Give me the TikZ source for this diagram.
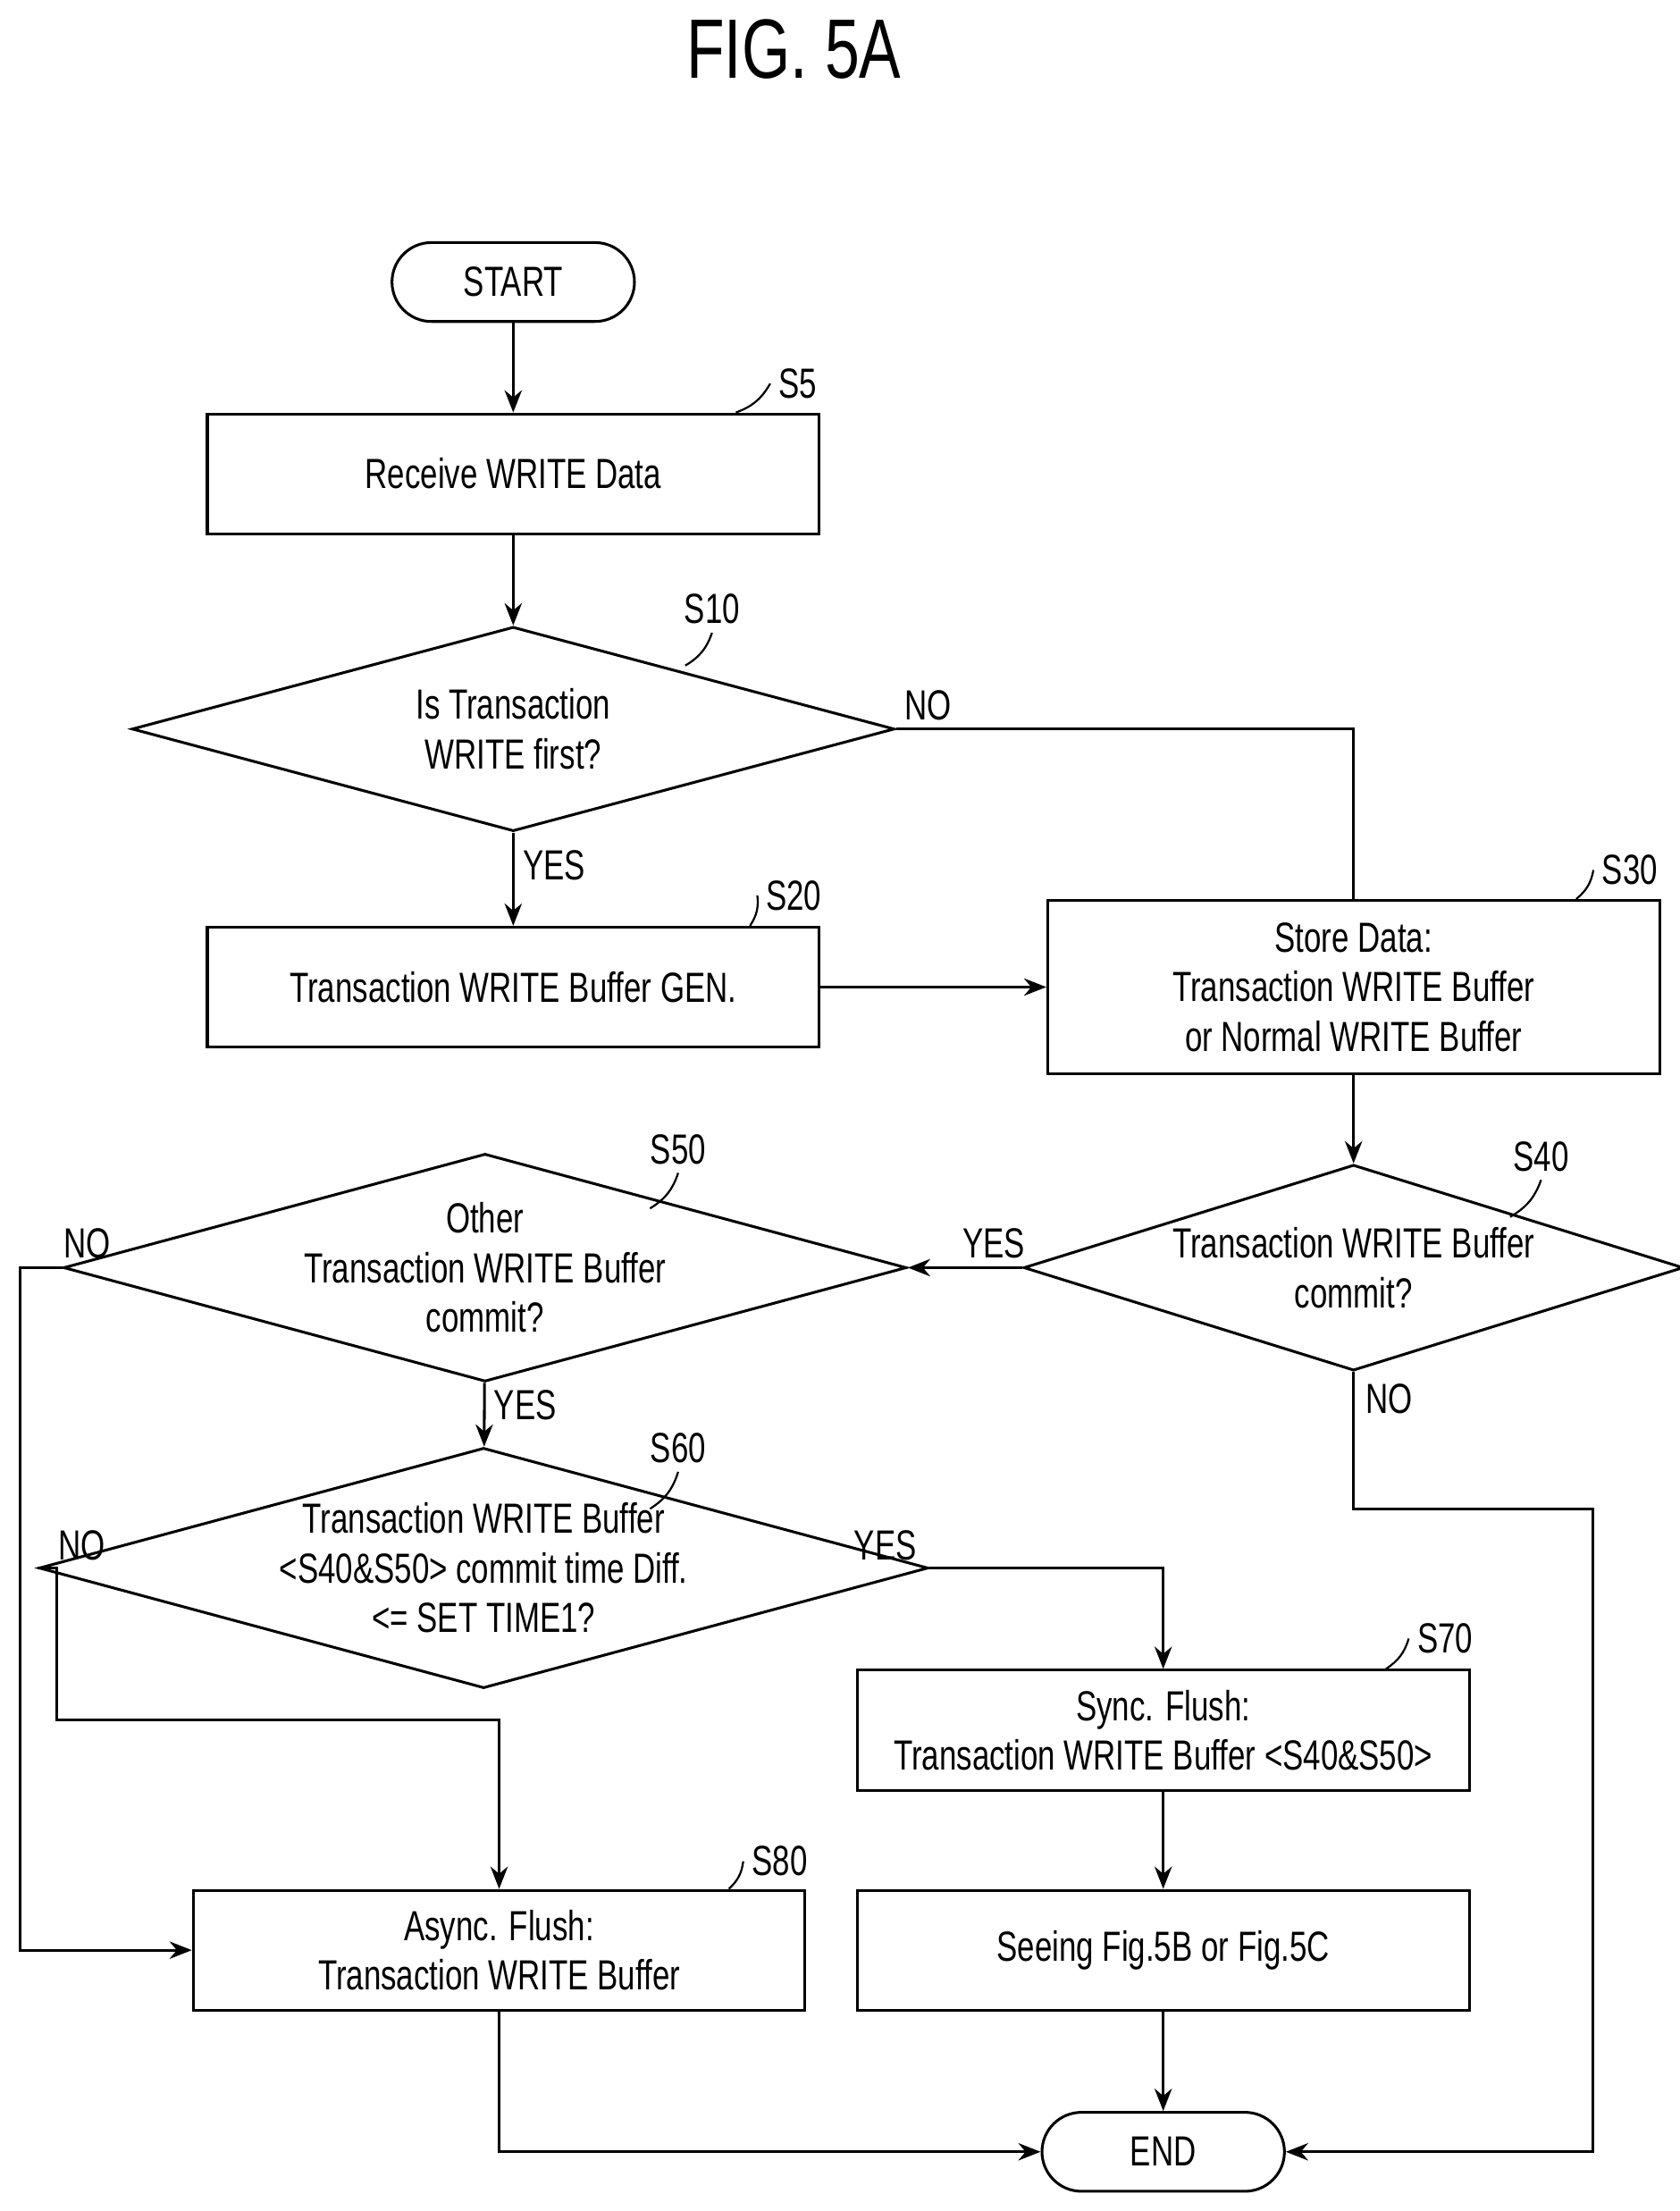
\documentclass[tikz,border=0pt]{standalone}
\usepackage{fontspec}
\setmainfont{Liberation Sans}[FakeStretch=0.74]
\usetikzlibrary{arrows.meta,shapes.geometric,positioning}
\tikzset{
    >={Stealth[length=9pt,width=7pt]},
    procbox/.style={draw, line width=1.1pt, minimum width=8.68cm, minimum height=1.7cm, align=center, inner sep=0pt},
    terminal/.style={draw, line width=1.1pt, rounded corners=0.56cm, minimum width=3.44cm, minimum height=1.12cm},
    decision/.style={draw, diamond, line width=1.1pt, align=center, inner sep=0pt, aspect=3.7},
    flow/.style={->, line width=1.1pt},
    tag/.style={line width=0.8pt},
}
\begin{document}
\begin{tikzpicture}[x=0.02cm, y=-0.02cm, font=\fontsize{17}{20}\selectfont]
\useasboundingbox (0,0) rectangle (1191,1568);
\node (title) at (563,35) {\fontsize{34}{40}\selectfont FIG. 5A};

% nodes
\node[terminal] (start) at (364,200) {START};
\node[procbox] (s5) at (364,336) {Receive WRITE Data};
\node[decision, minimum width=10.82cm, minimum height=2.9cm] (s10) at (364,517) {Is Transaction\\WRITE first?};
\node[procbox] (s20) at (364,700) {Transaction WRITE Buffer GEN.};
\node[procbox, minimum height=2.46cm] (s30) at (960,700) {Store Data:\\Transaction WRITE Buffer\\or Normal WRITE Buffer};
\node[decision, minimum width=8.68cm, minimum height=2.92cm] (s40) at (960,899) {Transaction WRITE Buffer\\commit?};
\node[decision, minimum width=10.66cm, minimum height=2.92cm] (s50) at (344,899) {Other\\Transaction WRITE Buffer\\commit?};
\node[decision, minimum width=10.6cm, minimum height=2.98cm] (s60) at (343,1112) {Transaction WRITE Buffer\\{<}S40\&S50{>} commit time Diff.\\{<}= SET TIME1?};
\node[procbox] (s70) at (825,1227) {Sync. Flush:\\Transaction WRITE Buffer {<}S40\&S50{>}};
\node[procbox] (s80) at (354,1383) {Async. Flush:\\Transaction WRITE Buffer};
\node[procbox] (see) at (825,1383) {Seeing Fig.5B or Fig.5C};
\node[terminal] (end) at (825,1526) {END};

% step labels
\node (l5) at (566,272) {S5};
\node (l10) at (505,432) {S10};
\node (l20) at (563,635) {S20};
\node (l30) at (1156,617) {S30};
\node (l40) at (1093,820) {S40};
\node (l50) at (481,815) {S50};
\node (l60) at (481,1027) {S60};
\node (l70) at (1025,1162) {S70};
\node (l80) at (553,1320) {S80};
\draw[tag] (s5.north east) ++(-60,0) to[bend right=20] (l5.west);
\draw[tag] (486,472) to[bend right=20] (l10.south);
\draw[tag] (s20.north east) ++(-50,0) to[bend right=20] (l20.west);
\draw[tag] (s30.north east) ++(-60,0) to[bend right=20] (l30.west);
\draw[tag] (1071,863) to[bend right=20] (l40.south);
\draw[tag] (461,857) to[bend right=20] (l50.south);
\draw[tag] (461,1070) to[bend right=20] (l60.south);
\draw[tag] (s70.north east) ++(-60,0) to[bend right=20] (l70.west);
\draw[tag] (s80.north east) ++(-55,0) to[bend right=20] (l80.west);

% connectors
\draw[flow] (start) -- (s5);
\draw[flow] (s5) -- (s10);
\draw[flow] (s10) -- node[right, pos=0.35]{YES} (s20);
\draw[line width=1.1pt] (s10.east) -| (s30.north);
\node at (658,500) {NO};
\draw[flow] (s20) -- (s30);
\draw[flow] (s30) -- (s40);
\draw[flow] (s40.west) -- node[above, pos=0.25]{YES} (s50.east);
\draw[flow] (s50) -- node[right, pos=0.35]{YES} (s60);
\node at (62,882) {NO};
\draw[flow] (s50.west) -- (14,899) |- (s80.west);
\node at (58,1096) {NO};
\draw[flow] (s60.west) -- (40,1112) -- (40,1220) -| (s80.north);
\node at (628,1096) {YES};
\draw[flow] (s60.east) -| (s70.north);
\draw[flow] (s70) -- (see);
\draw[flow] (see) -- (end);
\draw[flow] (s80.south) |- (end.west);
\node at (985,992) {NO};
\draw[flow] (s40.south) -- (960,1070) -- (1130,1070) |- (end.east);
\end{tikzpicture}
\end{document}
